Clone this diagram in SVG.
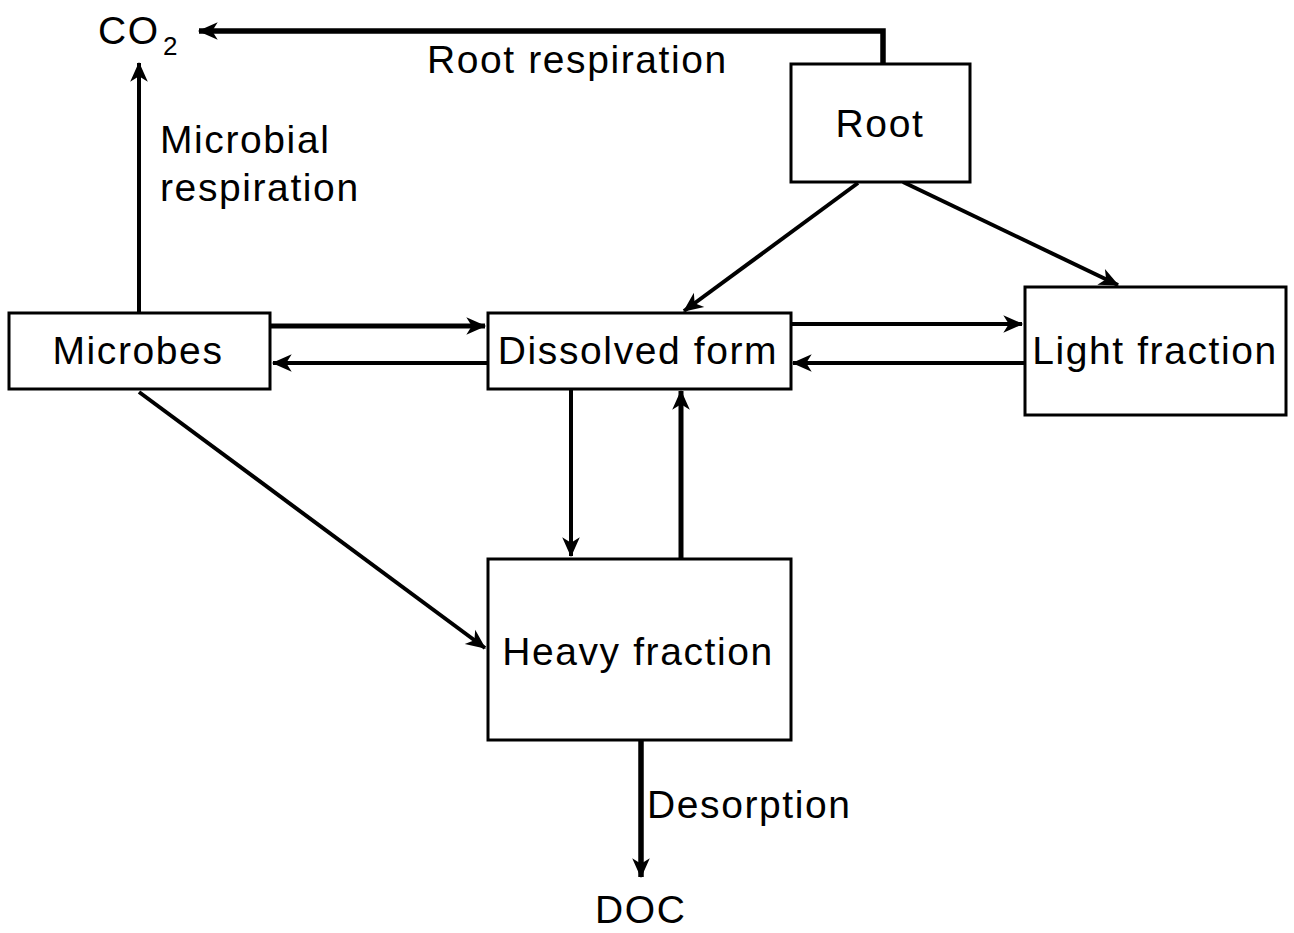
<svg xmlns="http://www.w3.org/2000/svg" width="1294" height="933" viewBox="0 0 1294 933">
<style>
.box{fill:#fff;stroke:#000;stroke-width:3}
.t{font-family:"Liberation Sans",Arial,sans-serif;font-size:39px;fill:#000;letter-spacing:1.6px}
.c{text-anchor:middle}
.ln{fill:none;stroke:#000;stroke-width:4}
.thick{stroke-width:5.5}
</style>
<defs>
<marker id="ah" markerUnits="userSpaceOnUse" markerWidth="22" markerHeight="22" viewBox="0 0 20 20" refX="18" refY="10" orient="auto">
<path d="M1,2 L19,10 L1,18 L6,10 Z" fill="#000"/>
</marker>
</defs>
<rect width="1294" height="933" fill="#fff"/>
<g id="connectors">
<polyline class="ln thick" points="883,63 883,31 199,31" marker-end="url(#ah)"/>
<line class="ln" x1="139" y1="312" x2="139" y2="63" marker-end="url(#ah)"/>
<line class="ln" x1="858" y1="183" x2="684" y2="311" marker-end="url(#ah)"/>
<line class="ln" x1="903" y1="182" x2="1118" y2="285" marker-end="url(#ah)"/>
<line class="ln" x1="271" y1="326" x2="485" y2="326" marker-end="url(#ah)" style="stroke-width:5"/>
<line class="ln" x1="487" y1="363" x2="273" y2="363" marker-end="url(#ah)"/>
<line class="ln" x1="791" y1="324" x2="1022" y2="324" marker-end="url(#ah)"/>
<line class="ln" x1="1024" y1="363" x2="793" y2="363" marker-end="url(#ah)"/>
<line class="ln" x1="571" y1="390" x2="571" y2="556" marker-end="url(#ah)"/>
<line class="ln" x1="681" y1="558" x2="681" y2="391" marker-end="url(#ah)" style="stroke-width:5"/>
<line class="ln" x1="139" y1="392" x2="485" y2="648" marker-end="url(#ah)"/>
<line class="ln thick" x1="641" y1="740" x2="641" y2="877" marker-end="url(#ah)"/>
</g>
<g id="root"><rect class="box" x="791" y="64" width="179" height="118"/><text class="t c" x="880" y="137">Root</text></g>
<g id="microbes"><rect class="box" x="9" y="313" width="261" height="76"/><text class="t c" x="138" y="364">Microbes</text></g>
<g id="dissolved"><rect class="box" x="488" y="313" width="303" height="76"/><text class="t c" x="638" y="364">Dissolved form</text></g>
<g id="light"><rect class="box" x="1025" y="287" width="261" height="128"/><text class="t c" x="1155" y="364">Light fraction</text></g>
<g id="heavy"><rect class="box" x="488" y="559" width="303" height="181"/><text class="t c" x="638" y="665">Heavy fraction</text></g>
<g id="co2"><text class="t" x="98" y="44">CO</text><text class="t" x="163" y="55" style="font-size:26px;letter-spacing:0">2</text></g>
<g id="doc"><text class="t" x="595" y="923">DOC</text></g>
<g id="labels">
<text class="t" x="427" y="73">Root respiration</text>
<text class="t" x="160" y="153">Microbial</text>
<text class="t" x="160" y="201">respiration</text>
<text class="t" x="647" y="818">Desorption</text>
</g>
</svg>
